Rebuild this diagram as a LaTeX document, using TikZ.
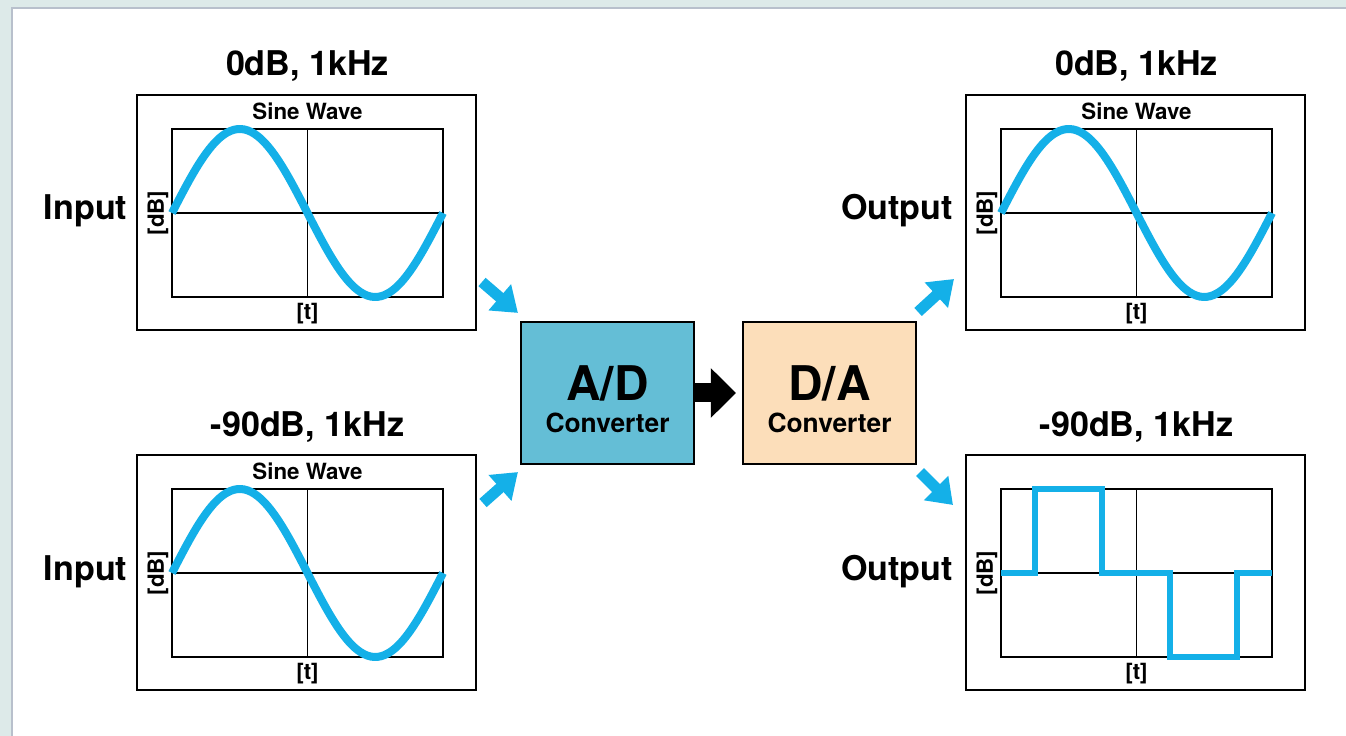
\documentclass[tikz,border=0pt]{standalone}
\usepackage{fontspec}
\setmainfont{TeX Gyre Heros}
\usetikzlibrary{arrows.meta}

\definecolor{bgteal}{RGB}{221,234,233}
\definecolor{framegray}{RGB}{184,192,204}
\definecolor{wave}{RGB}{20,176,232}
\definecolor{adblue}{RGB}{100,190,214}
\definecolor{dapeach}{RGB}{252,222,186}

\begin{document}
\begin{tikzpicture}[
  font=\bfseries,
  frame/.style={line width=1.1pt},
  grid/.style={line width=0.9pt},
  curve/.style={wave, line width=0.16cm},
  title/.style={font=\bfseries\fontsize{19.4}{22}\selectfont},
  small/.style={font=\bfseries\fontsize{12.7}{15}\selectfont},
  conv/.style={draw, line width=1.2pt, minimum width=3.46cm,
    minimum height=2.84cm, inner sep=0pt},
  convtext/.style={align=center, font=\bfseries\fontsize{15}{18}\selectfont},
  feed/.style={wave, line width=0.22cm,
    -{Triangle[length=0.48cm, width=0.66cm]}}
]
\useasboundingbox (0,0) rectangle (26.92,14.72);

% Fond
\fill[bgteal] (0,0) rectangle (26.92,14.72);
\fill[white] (0.26,0) rectangle (26.92,14.54);
\draw[framegray, line width=0.05cm] (0.24,0) -- (0.24,14.56) -- (26.92,14.56);

% Entree 0dB
\begin{scope}[shift={(3.44,8.78)}]

\draw[frame] (-0.70,-0.66) rectangle (6.08,4.04);
\draw[grid] (0,0) rectangle (5.42,3.36);
\draw[grid] (2.71,0) -- (2.71,3.36);
\draw[grid] (0,1.68) -- (5.42,1.68);
\draw[curve] plot[domain=0:5.42, samples=80, smooth]
  (\x,{1.68+1.68*sin(\x/5.42*360)});

\node[title, anchor=base] (title1) at (2.71,4.42) {0dB, 1kHz};
\node[small, anchor=base] (sine1) at (2.71,3.54) {Sine Wave};
\node[small] (time1) at (2.71,-0.33) {[t]};
\node[small, rotate=90] (level1) at (-0.28,1.68) {[dB]};
\node[title, anchor=base east] (input1) at (-0.77,1.55) {Input};

\end{scope}

% Entree -90dB
\begin{scope}[shift={(3.44,1.58)}]

\draw[frame] (-0.70,-0.66) rectangle (6.08,4.04);
\draw[grid] (0,0) rectangle (5.42,3.36);
\draw[grid] (2.71,0) -- (2.71,3.36);
\draw[grid] (0,1.68) -- (5.42,1.68);
\draw[curve] plot[domain=0:5.42, samples=80, smooth]
  (\x,{1.68+1.68*sin(\x/5.42*360)});

\node[title, anchor=base] (title2) at (2.71,4.40) {-90dB, 1kHz};
\node[small, anchor=base] (sine2) at (2.71,3.54) {Sine Wave};
\node[small] (time2) at (2.71,-0.33) {[t]};
\node[small, rotate=90] (level2) at (-0.28,1.68) {[dB]};
\node[title, anchor=base east] (input2) at (-0.77,1.52) {Input};

\end{scope}

% Sortie 0dB
\begin{scope}[shift={(20.02,8.78)}]

\draw[frame] (-0.70,-0.66) rectangle (6.08,4.04);
\draw[grid] (0,0) rectangle (5.42,3.36);
\draw[grid] (2.71,0) -- (2.71,3.36);
\draw[grid] (0,1.68) -- (5.42,1.68);
\draw[curve] plot[domain=0:5.42, samples=80, smooth]
  (\x,{1.68+1.68*sin(\x/5.42*360)});

\node[title, anchor=base] (title3) at (2.71,4.42) {0dB, 1kHz};
\node[small, anchor=base] (sine3) at (2.71,3.54) {Sine Wave};
\node[small] (time3) at (2.71,-0.33) {[t]};
\node[small, rotate=90] (level3) at (-0.28,1.68) {[dB]};
\node[title, anchor=base east] (output1) at (-0.84,1.55) {Output};

\end{scope}

% Sortie -90dB
\begin{scope}[shift={(20.02,1.58)}]

\draw[frame] (-0.70,-0.66) rectangle (6.08,4.04);
\draw[grid] (0,0) rectangle (5.42,3.36);
\draw[grid] (2.71,0) -- (2.71,3.36);
\draw[grid] (0,1.68) -- (5.42,1.68);
\draw[wave, line width=0.12cm] (0,1.68) -- (0.68,1.68) -- (0.68,3.36)
  -- (2.02,3.36) -- (2.02,1.68) -- (3.38,1.68) -- (3.38,0) -- (4.72,0)
  -- (4.72,1.68) -- (5.42,1.68);

\node[title, anchor=base] (title4) at (2.71,4.40) {-90dB, 1kHz};
\node[small] (time4) at (2.71,-0.33) {[t]};
\node[small, rotate=90] (level4) at (-0.28,1.68) {[dB]};
\node[title, anchor=base east] (output2) at (-0.84,1.52) {Output};

\end{scope}

% Convertisseurs
\node[conv, fill=adblue] (ad) at (12.15,6.86) {};
\node[convtext] (adtext) at ([yshift=-0.12cm]ad.center)
  {{\fontsize{27.2}{18}\selectfont A/D}\\Converter};

\node[conv, fill=dapeach] (da) at (16.59,6.86) {};
\node[convtext] (datext) at ([yshift=-0.12cm]da.center)
  {{\fontsize{27.2}{18}\selectfont D/A}\\Converter};

\draw[line width=0.38cm, -{Triangle[length=0.5cm, width=0.96cm]}]
  (ad.east) -- ([xshift=-0.12cm]da.west);

% Fleches bleues
\coordinate (feed1) at (9.64,9.08);
\coordinate (feed2) at (9.66,4.66);
\coordinate (feed3) at (19.08,9.14);
\coordinate (feed4) at (19.06,4.62);

\draw[feed] (feed1) -- ([shift={(-0.04,0.16)}]ad.north west);
\draw[feed] (feed2) -- ([shift={(-0.04,-0.14)}]ad.south west);
\draw[feed] ([shift={(0.02,0.18)}]da.north east) -- (feed3);
\draw[feed] ([shift={(0.06,-0.14)}]da.south east) -- (feed4);

\end{tikzpicture}
\end{document}
